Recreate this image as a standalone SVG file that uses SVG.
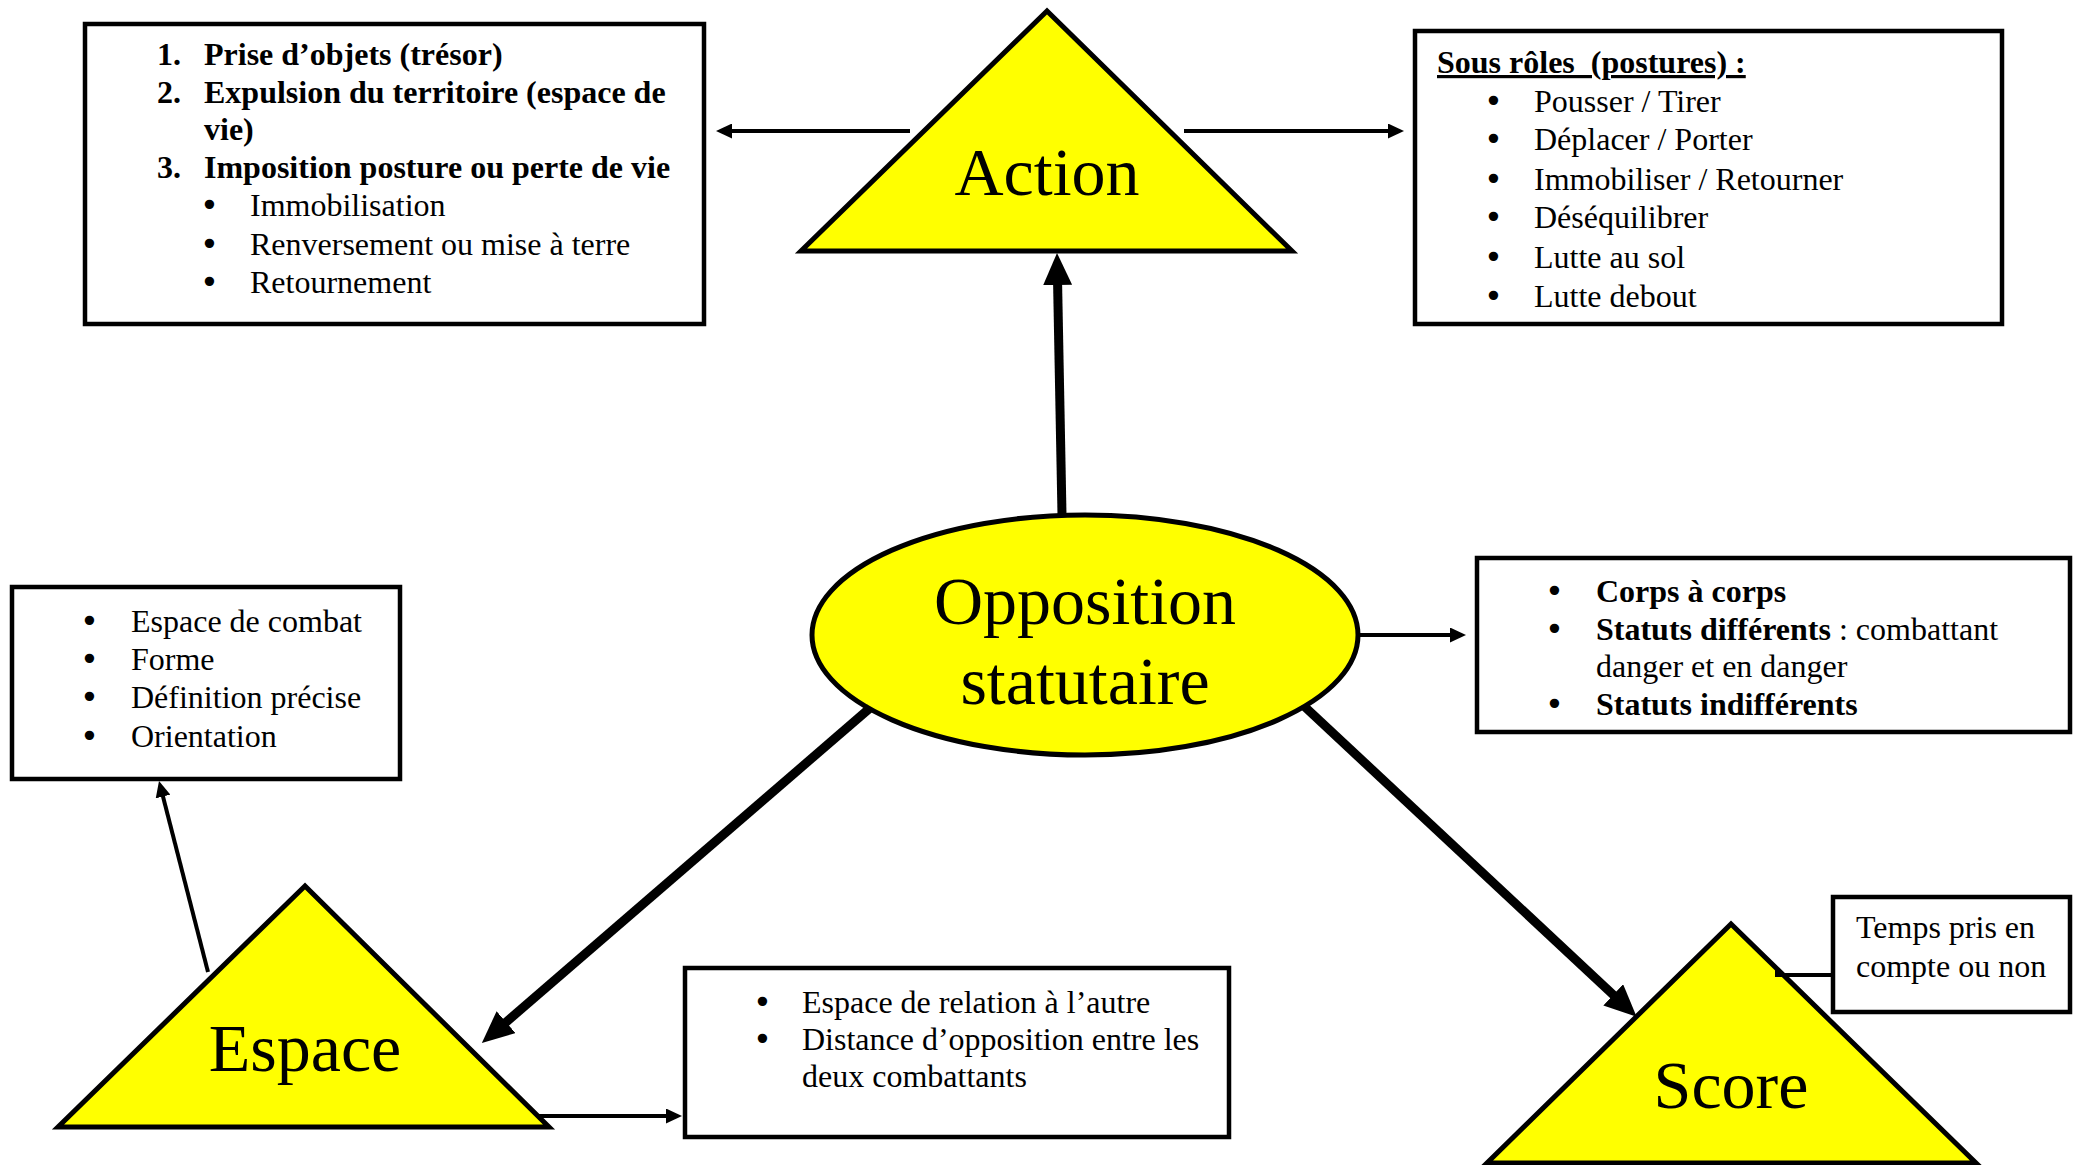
<svg xmlns="http://www.w3.org/2000/svg" width="2080" height="1165" viewBox="0 0 2080 1165">
<style>
.t{font-family:"Liberation Serif","Times New Roman",serif;font-size:32px;fill:#000}
.b{font-weight:bold}
.bu{font-family:"DejaVu Sans",sans-serif;font-size:32px;fill:#000}
.big{font-family:"Liberation Serif","Times New Roman",serif;font-size:68px;fill:#000;text-anchor:middle}
.box{fill:#fff;stroke:#000;stroke-width:4.5}
.shape{fill:#ffff00;stroke:#000;stroke-width:5;stroke-linejoin:miter}
.thin{stroke:#000;stroke-width:4;fill:none}
.thick{stroke:#000;stroke-width:9;fill:none}
</style>
<defs>
<marker id="ah" markerUnits="userSpaceOnUse" viewBox="0 0 16 15" markerWidth="16" markerHeight="15" refX="6" refY="7.5" orient="auto"><path d="M0,0 L16,7.5 L0,15 z" fill="#000"/></marker>
<marker id="AH" markerUnits="userSpaceOnUse" viewBox="0 0 32 29" markerWidth="32" markerHeight="29" refX="12" refY="14.5" orient="auto"><path d="M0,0 L32,14.5 L0,29 z" fill="#000"/></marker>
</defs>
<rect width="2080" height="1165" fill="#fff"/>

<g id="box-objectifs">
<rect class="box" x="85" y="24" width="619" height="300"/>
<text class="t b" x="157" y="65">1.</text><text class="t b" x="204" y="65">Prise d’objets (trésor)</text>
<text class="t b" x="157" y="103">2.</text><text class="t b" x="204" y="103">Expulsion du territoire (espace de</text>
<text class="t b" x="204" y="140">vie)</text>
<text class="t b" x="157" y="178">3.</text><text class="t b" x="204" y="178">Imposition posture ou perte de vie</text>
<text class="bu" x="200" y="216">•</text><text class="t" x="250" y="216">Immobilisation</text>
<text class="bu" x="200" y="255">•</text><text class="t" x="250" y="255">Renversement ou mise à terre</text>
<text class="bu" x="200" y="293">•</text><text class="t" x="250" y="293">Retournement</text>
</g>

<g id="box-sous-roles">
<rect class="box" x="1415" y="31" width="587" height="293"/>
<text class="t b" x="1437" y="73" style="white-space:pre;text-decoration:underline">Sous rôles  (postures) :</text>
<text class="bu" x="1484" y="112">•</text><text class="t" x="1534" y="112">Pousser / Tirer</text>
<text class="bu" x="1484" y="150">•</text><text class="t" x="1534" y="150">Déplacer / Porter</text>
<text class="bu" x="1484" y="190">•</text><text class="t" x="1534" y="190">Immobiliser / Retourner</text>
<text class="bu" x="1484" y="228">•</text><text class="t" x="1534" y="228">Déséquilibrer</text>
<text class="bu" x="1484" y="268">•</text><text class="t" x="1534" y="268">Lutte au sol</text>
<text class="bu" x="1484" y="307">•</text><text class="t" x="1534" y="307">Lutte debout</text>
</g>

<g id="box-espace-combat">
<rect class="box" x="12" y="587" width="388" height="192"/>
<text class="bu" x="80" y="632">•</text><text class="t" x="131" y="632">Espace de combat</text>
<text class="bu" x="80" y="670">•</text><text class="t" x="131" y="670">Forme</text>
<text class="bu" x="80" y="708">•</text><text class="t" x="131" y="708">Définition précise</text>
<text class="bu" x="80" y="747">•</text><text class="t" x="131" y="747">Orientation</text>
</g>

<g id="box-statuts">
<rect class="box" x="1477" y="558" width="593" height="174"/>
<text class="bu" x="1545" y="602">•</text><text class="t b" x="1596" y="602">Corps à corps</text>
<text class="bu" x="1545" y="640">•</text><text class="t" x="1596" y="640"><tspan class="b">Statuts différents</tspan> : combattant</text>
<text class="t" x="1596" y="677">danger et en danger</text>
<text class="bu" x="1545" y="715">•</text><text class="t b" x="1596" y="715">Statuts indifférents</text>
</g>

<g id="box-relation">
<rect class="box" x="685" y="968" width="544" height="169"/>
<text class="bu" x="753" y="1013">•</text><text class="t" x="802" y="1013">Espace de relation à l’autre</text>
<text class="bu" x="753" y="1050">•</text><text class="t" x="802" y="1050">Distance d’opposition entre les</text>
<text class="t" x="802" y="1087">deux combattants</text>
</g>

<g id="box-temps">
<rect class="box" x="1833" y="897" width="237" height="115"/>
<text class="t" x="1856" y="938">Temps pris en</text>
<text class="t" x="1856" y="977">compte ou non</text>
</g>

<g id="node-action">
<polygon class="shape" points="1047,11 801,251 1292,251"/>
<text class="big" x="1047" y="195">Action</text>
</g>

<g id="node-opposition">
<ellipse class="shape" cx="1085" cy="635" rx="273" ry="120"/>
<text class="big" x="1085" y="624">Opposition</text>
<text class="big" x="1085" y="704">statutaire</text>
</g>

<g id="node-espace">
<polygon class="shape" points="305,886 58,1127 549,1127"/>
<text class="big" x="305" y="1071">Espace</text>
</g>

<g id="node-score">
<polygon class="shape" points="1731,924 1487,1163 1976,1163"/>
<text class="big" x="1731" y="1108">Score</text>
</g>

<g id="connectors">
<line class="thin" x1="910" y1="131" x2="726" y2="131" marker-end="url(#ah)"/>
<line class="thin" x1="1184" y1="131" x2="1394" y2="131" marker-end="url(#ah)"/>
<line class="thick" x1="1062" y1="515" x2="1057.4" y2="273" marker-end="url(#AH)"/>
<line class="thin" x1="1360" y1="635" x2="1456" y2="635" marker-end="url(#ah)"/>
<line class="thick" x1="870" y1="708" x2="497" y2="1030" marker-end="url(#AH)"/>
<line class="thick" x1="1305" y1="707" x2="1622" y2="1003" marker-end="url(#AH)"/>
<line class="thin" x1="208" y1="972" x2="161.5" y2="790.7" marker-end="url(#ah)"/>
<line class="thin" x1="537" y1="1116" x2="672" y2="1116" marker-end="url(#ah)"/>
<polyline class="thin" points="1777,969 1777,975 1833,975"/>
</g>
</svg>
